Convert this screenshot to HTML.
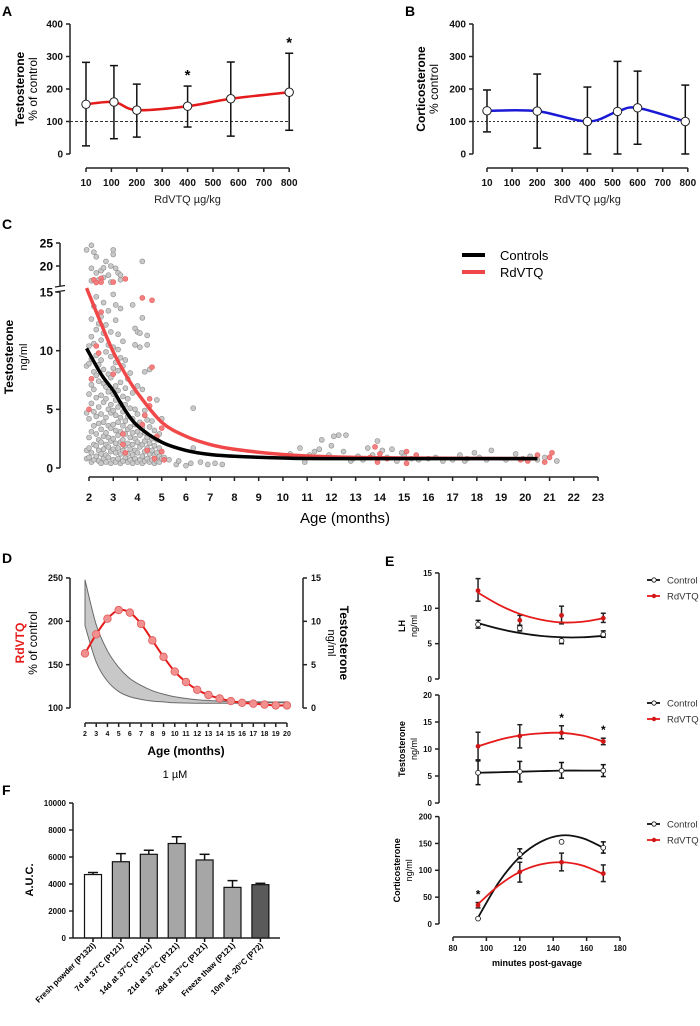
<!DOCTYPE html>
<html><head><meta charset="utf-8"><style>
html,body{margin:0;padding:0;background:#fff;}
svg{display:block;font-family:"Liberation Sans",Arial,sans-serif;}
</style></head><body>
<svg id="fig" width="700" height="1026" viewBox="0 0 700 1026" xmlns="http://www.w3.org/2000/svg">
<text x="2" y="16" font-size="14" font-weight="bold">A</text>
<text x="405" y="16" font-size="14" font-weight="bold">B</text>
<text x="2" y="229" font-size="14" font-weight="bold">C</text>
<text x="2" y="563" font-size="14" font-weight="bold">D</text>
<text x="385" y="566" font-size="14" font-weight="bold">E</text>
<text x="2" y="795" font-size="14" font-weight="bold">F</text>
</svg>
<script>
// ---------- DATA ----------
const aDose=[10,110,200,400,570,800];
const aMean=[153,160,135,147,170,190];
const aLo=[25,47,52,83,55,73];
const aHi=[282,272,215,209,283,310];
const aSig=[0,0,0,1,0,1];
const abXTicks=[10,100,200,300,400,500,600,700,800];
const abYTicks=[0,100,200,300,400];
const bDose=[10,200,400,520,600,790];
const bMean=[133,132,100,131,142,100];
const bLo=[68,18,0,0,30,0];
const bHi=[197,246,206,285,255,212];

const cXTicks=[2,3,4,5,6,7,8,9,10,11,12,13,14,15,16,17,18,19,20,21,22,23];
const cYTicksLow=[0,5,10,15];
const cYTicksHigh=[20,25];
const ctrlT=[1.9,2.5,3,3.5,4,5,6,7,8,10,12,20.5];
const ctrlV=[10.2,8.0,6.6,4.9,3.6,2.2,1.5,1.15,1.0,0.85,0.8,0.8];
const rdT=[1.9,2.5,3,3.5,4,5,6,7,8,10,12,15,20.5];
const rdV=[15.2,12.3,9.9,8.0,6.4,3.9,2.7,2.0,1.6,1.15,0.95,0.85,0.8];
const grayCols=[
[1.9,[0.8,1.5,4.7,8.7]],
[2.0,[0.9,2.6,4.2,6.3,8.9,10.4,1.7]],
[2.1,[0.5,1.3,3.1,5.5,7.1,9.3,11.2,12.7]],
[2.2,[0.7,2.0,3.6,4.8,6.7,8.2,10.6,13.8]],
[2.3,[1.0,1.9,2.9,4.4,6.0,7.9,9.6,11.8,14.6]],
[2.4,[0.6,1.5,2.4,3.8,5.2,7.4,8.8,12.3]],
[2.5,[0.4,1.2,2.2,3.3,4.6,6.2,9.2,10.9,12.9]],
[2.6,[0.8,1.6,2.7,3.9,5.6,7.2,8.4,11.5,14.1]],
[2.7,[0.5,1.1,2.0,3.0,4.3,5.9,6.9,9.9,12.2]],
[2.8,[0.9,1.8,2.6,3.6,5.0,6.5,8.0,10.5,13.4]],
[2.9,[0.4,1.4,2.3,3.4,4.7,5.4,7.7,9.5,11.6]],
[3.0,[0.7,1.6,2.5,3.7,4.9,6.3,8.5,10.3,14.8]],
[3.1,[0.5,1.3,2.1,3.2,4.5,5.8,7.0,9.0,12.6,13.9]],
[3.2,[0.8,1.7,2.8,3.9,5.2,6.6,8.3,10.1,11.4]],
[3.3,[0.4,1.2,2.2,3.1,4.3,5.5,7.3,9.4,13.6]],
[3.4,[0.6,1.5,2.4,3.6,4.8,6.1,8.7,10.8]],
[3.5,[0.9,1.9,2.9,4.0,5.4,6.8,9.2]],
[3.6,[0.5,1.2,2.1,3.3,4.4,5.9,7.6]],
[3.7,[0.7,1.6,2.6,3.5,5.1,8.1]],
[3.8,[0.4,1.1,2.0,3.0,4.2,6.4,13.9]],
[3.9,[0.8,1.5,2.5,3.7,5.0,10.5,11.9]],
[4.0,[0.5,1.3,2.2,3.1,4.6,7.0,11.6]],
[4.1,[0.7,1.8,2.8,3.9,10.3,11.5]],
[4.2,[0.4,1.0,2.0,3.4,6.7,12.8]],
[4.3,[0.6,1.4,2.3,3.0,8.2,4.9]],
[4.4,[0.8,1.7,2.6,4.1,11.3,10.5]],
[4.5,[0.5,1.2,2.1,3.5,8.4]],
[4.6,[0.7,1.5,2.5,4.0]],
[4.7,[0.4,1.1,1.9,3.2]],
[4.8,[0.6,1.3,2.4,5.8]],
[4.9,[0.5,1.0,1.7,2.9]],
[5.0,[0.8,1.4,4.2]],
[1.9,[23.5]],[2.1,[24.5,19.5,16.8]],[2.2,[23]],[2.3,[22,18.5]],[2.4,[17]],[2.5,[19]],[2.6,[17.5,19.6]],[2.7,[21]],[2.8,[18]],[2.9,[16.5,20]],[3.0,[23.5,22.5]],[3.1,[19.5]],[3.2,[18.5]],[3.3,[17,18]],[4.2,[21]]
];
const grayLate=[[5.1,0.9],[5.3,0.7],[5.6,0.3],[5.7,0.6],[6,0.2],[6.2,0.4],[6.3,1.7],[6.3,5.1],[6.6,0.5],[6.9,0.3],[7.2,0.4],[7.5,0.3],
[10.3,1.2],[10.7,1.7],[10.9,0.5],[11,0.9],[11.1,1.1],[11.3,1.4],[11.5,1.6],[11.6,2.4],[11.9,1.1],[12,1.9],[12.1,2.7],[12.3,2.8],[12.5,1.4],[12.6,2.8],[12.8,0.6],[12.9,0.8],[13.1,1],[13.3,0.7],[13.5,1.7],[13.7,1.1],[13.9,2.3],[14.1,1.5],[14.3,0.9],[14.5,1.6],[14.7,0.6],[14.9,1.3],[15,1],[15.3,0.8],[15.6,0.7],[16,0.8],[16.3,0.9],[16.6,0.6],[17,0.7],[17.3,1.1],[17.5,0.6],[17.6,0.8],[17.9,1.3],[18.1,0.9],[18.4,0.7],[18.6,1.5],[19.2,0.7],[19.6,1.2],[19.9,0.8],[20.2,1],[20.5,0.7],[20.8,0.9],[21.3,0.6]];
const redPts=[[2.2,17],[2.5,17.3],[2.5,16.5],[3.0,16.5],[3.5,17.2],[2.3,16.4],
[2.0,5],[2.1,7.6],[2.3,10.4],[2.4,9.8],[2.5,13.3],[3.0,8],[3.4,2.9],[3.4,2],[3.5,1.3],[4.2,14.5],[4.6,14.3],[4.6,8.6],[4.5,5.9],[4.3,4.5],[4.2,3.7],[4.8,2.7],[5.0,3.4],[5,1.4],[5.1,0.7],[4.4,1.5],[4.7,0.8],[4.5,5.3],
[13.6,0.9],[13.8,1.8],[13.9,0.5],[14,1.2],[14.3,0.8],[15.1,1.4],[15.1,0.4],[15.5,1.1],[19.8,0.7],[20.1,0.6],[20.5,1.1],[20.8,0.5],[21,0.9],[21.1,1.3]];

const dAge=[2,3,4,5,6,7,8,9,10,11,12,13,14,15,16,17,18,19,20];
const dPct=[163,185,203,213,210,197,178,159,142,130,121,115,111,108,106,105,104,103,103];
const dBandT=[2,3,4,5,6,7,8,9,10,12,14,16,18,20];
const dBandHi=[14.8,9.6,6.6,4.7,3.4,2.6,2.0,1.6,1.3,0.95,0.8,0.75,0.7,0.7];
const dBandLo=[9.5,5.3,3.1,1.9,1.3,1.0,0.8,0.7,0.6,0.55,0.55,0.55,0.6,0.6];
const dXTicks=[2,3,4,5,6,7,8,9,10,11,12,13,14,15,16,17,18,19,20];
const dYLTicks=[100,150,200,250];
const dYRTicks=[0,5,10,15];

const eMin=[95,120,145,170];
const eCurveMin=[95,107.5,120,132.5,145,157.5,170];
const lhCtrl=[7.7,7.2,5.4,6.3], lhCtrlLo=[7.2,6.8,5.0,5.9], lhCtrlHi=[8.3,7.6,5.9,6.8];
const lhRd=[12.5,8.3,9.0,8.6], lhRdLo=[11,7.5,7.8,8.0], lhRdHi=[14.2,9.0,10.3,9.3];
const lhCtrlFit=[7.9,7.1,6.5,6.1,5.9,5.9,6.1], lhRdFit=[12.2,10.5,9.2,8.4,8.0,8.1,8.6];
const tCtrl=[5.6,5.8,6,6], tCtrlLo=[3.4,3.9,4.6,4.9], tCtrlHi=[7.8,7.7,7.5,7.1];
const tRd=[10.5,12.4,13,11.4], tRdLo=[8,10.2,11.9,10.8], tRdHi=[13.1,14.5,14.3,12];
const tSig=[0,0,1,1];
const tCtrlFit=[5.6,5.7,5.8,5.9,6,6,6], tRdFit=[10.5,11.7,12.5,12.9,13,12.5,11.4];
const cCtrl=[10,130,153,142], cCtrlLo=[10,122,153,132], cCtrlHi=[10,140,153,153];
const cRd=[35,97,115,94], cRdLo=[30,78,99,79], cRdHi=[40,115,132,110];
const cSig=[1,0,0,0];
const cCtrlFit=[12,78,125,153,165,160,142], cRdFit=[37,72,97,111,115,109,93];
const eXTicks=[80,100,120,140,160,180];

const fCats=["Fresh powder (P132I)","7d at 37°C (P121)","14d at 37°C (P121)","21d at 37°C (P121)","28d at 37°C (P121)","Freeze thaw (P121)","10m at -20°C (P72)"];
const fVals=[4700,5650,6200,7000,5780,3750,3950];
const fErr=[150,600,300,500,420,500,100];
const fYTicks=[0,2000,4000,6000,8000,10000];
const fColors=["#ffffff","#a6a6a6","#a6a6a6","#a6a6a6","#a6a6a6","#a6a6a6","#5a5a5a"];

// ---------- HELPERS ----------
const NS="http://www.w3.org/2000/svg";
const svg=document.getElementById('fig');
function E(tag,a,p){const e=document.createElementNS(NS,tag);for(const k in a)e.setAttribute(k,a[k]);(p||svg).appendChild(e);return e;}
function T(x,y,s,a,p){const e=E('text',Object.assign({x:x,y:y},a||{}),p);e.textContent=s;return e;}
function G(name){const g=E('g',{});


return g;}
function smooth(pts){let d='M'+pts[0][0]+','+pts[0][1];
for(let i=0;i<pts.length-1;i++){const p0=pts[Math.max(0,i-1)],p1=pts[i],p2=pts[i+1],p3=pts[Math.min(pts.length-1,i+2)];
const c1x=p1[0]+(p2[0]-p0[0])/6,c1y=p1[1]+(p2[1]-p0[1])/6,c2x=p2[0]-(p3[0]-p1[0])/6,c2y=p2[1]-(p3[1]-p1[1])/6;
d+=' C'+c1x+','+c1y+' '+c2x+','+c2y+' '+p2[0]+','+p2[1];}return d;}
function yAxis(g,x,ys,labels,fs,side){const ymin=Math.min(...ys),ymax=Math.max(...ys);
E('line',{x1:x,y1:ymin,x2:x,y2:ymax,stroke:'#222','stroke-width':1.5},g);
ys.forEach((y,i)=>{const dx=side==='r'?4:-4;E('line',{x1:x,y1:y,x2:x+dx,y2:y,stroke:'#222','stroke-width':1.5},g);
T(side==='r'?x+8:x-7,y+fs*0.36,labels[i],{'font-size':fs,'font-weight':'bold','text-anchor':side==='r'?'start':'end',fill:'#111'},g);});}
function xAxis(g,y,xs,labels,fs,ly){const xmin=Math.min(...xs),xmax=Math.max(...xs);
E('line',{x1:xmin,y1:y,x2:xmax,y2:y,stroke:'#222','stroke-width':1.5},g);
xs.forEach((x,i)=>{E('line',{x1:x,y1:y,x2:x,y2:y+4,stroke:'#222','stroke-width':1.5},g);
T(x,ly,labels[i],{'font-size':fs,'font-weight':'bold','text-anchor':'middle',fill:'#111'},g);});}
function vtitle(g,x,y,s,a){return T(x,y,s,Object.assign({'text-anchor':'middle',transform:'rotate(-90 '+x+' '+y+')'},a),g);}
function errbar(g,x,lo,hi,cw,col){E('line',{x1:x,y1:lo,x2:x,y2:hi,stroke:col,'stroke-width':1.5},g);
E('line',{x1:x-cw,y1:lo,x2:x+cw,y2:lo,stroke:col,'stroke-width':1.5},g);
E('line',{x1:x-cw,y1:hi,x2:x+cw,y2:hi,stroke:col,'stroke-width':1.5},g);}

// ---------- PANEL A / B ----------
function doseX(x0,sp){return d=>d<=100?x0+(d-10)/90*sp:x0+sp+(d-100)/100*sp;}
function drawAB(name,ax,x0,sp,xEnd,dose,mean,lo,hi,sig,col,t1,t2,tx,dash){
const g=G(name);const xs=doseX(x0,sp);const ys=v=>154-v*0.325;
yAxis(g,ax,abYTicks.map(ys),abYTicks.map(String),10,'l');
xAxis(g,168,abXTicks.map(xs),abXTicks.map(String),10,186);
T((x0+xEnd)/2,203,'RdVTQ µg/kg',{'font-size':11,'text-anchor':'middle',fill:'#222'},g);
const ref=E('line',{x1:ax,y1:ys(100),x2:xEnd,y2:ys(100),stroke:'#333','stroke-width':0.9,'stroke-dasharray':dash},g);


vtitle(g,tx,89,t1,{'font-size':12,'font-weight':'bold'});
vtitle(g,tx+13,89,t2,{'font-size':12});
dose.forEach((d,i)=>errbar(g,xs(d),ys(lo[i]),ys(hi[i]),4,'#111'));
const fit=E('path',{d:smooth(dose.map((d,i)=>[xs(d),ys(mean[i])])),fill:'none',stroke:col,'stroke-width':2.5},g);


dose.forEach((d,i)=>{const c=E('circle',{cx:xs(d),cy:ys(mean[i]),r:4.2,fill:'#fff',stroke:'#222','stroke-width':1},g);


if(sig[i])T(xs(d),ys(hi[i])-6,'*',{'font-size':15,'font-weight':'bold','text-anchor':'middle'},g);});}
drawAB('panel-a-chart',70,86,25.4,289,aDose,aMean,aLo,aHi,aSig,'#e51b1b','Testosterone','% of control',24,'3,2');
drawAB('panel-b-chart',473,487,25.1,688,bDose,bMean,bLo,bHi,[0,0,0,0,0,0],'#1a1ad6','Corticosterone','% control',425,'2,2');

// ---------- PANEL C ----------
(function(){const g=G('panel-c-chart');
const xs=t=>89+(t-2)*24.24;const ys=v=>v<=15?468-v*11.73:289-(v-15)*4.6;
yAxis(g,60,cYTicksLow.map(ys),cYTicksLow.map(String),12,'l');
const gu=G('y-axis-upper');g.appendChild(gu);
E('line',{x1:60,y1:243,x2:60,y2:286,stroke:'#222','stroke-width':1.5},gu);
cYTicksHigh.forEach(v=>{E('line',{x1:60,y1:ys(v),x2:56,y2:ys(v),stroke:'#222','stroke-width':1.5},gu);
T(53,ys(v)+4.5,String(v),{'font-size':12,'font-weight':'bold','text-anchor':'end'},gu);});
E('rect',{x:54,y:286,width:12,height:6,fill:'#fff'},g);
E('line',{x1:55,y1:287,x2:65,y2:285.5,stroke:'#222','stroke-width':1.2},g);
E('line',{x1:55,y1:292,x2:65,y2:290.5,stroke:'#222','stroke-width':1.2},g);
xAxis(g,477,cXTicks.map(xs),cXTicks.map(String),11,501);
T(345,523,'Age (months)',{'font-size':15,'text-anchor':'middle'},g);
vtitle(g,13,357,'Testosterone',{'font-size':12,'font-weight':'bold'});
vtitle(g,27,357,'ng/ml',{'font-size':11});
const pts=G('gray-scatter');g.appendChild(pts);
grayCols.forEach(c=>c[1].forEach(v=>{const e=E('circle',{cx:xs(c[0]),cy:ys(v),r:2.5,fill:'#c9c9c9',stroke:'#8d8d8d','stroke-width':0.6},pts);

}));
grayLate.forEach(p=>{const e=E('circle',{cx:xs(p[0]),cy:ys(p[1]),r:2.5,fill:'#c9c9c9',stroke:'#8d8d8d','stroke-width':0.6},pts);

});
redPts.forEach(p=>{const e=E('circle',{cx:xs(p[0]),cy:ys(p[1]),r:2.5,fill:'#f28080',stroke:'#e85a5a','stroke-width':0.6},pts);

});
const rc=E('path',{d:smooth(rdT.map((t,i)=>[xs(t),ys(rdV[i])])),fill:'none',stroke:'#f04848','stroke-width':3.5},g);


const cc=E('path',{d:smooth(ctrlT.map((t,i)=>[xs(t),ys(ctrlV[i])])),fill:'none',stroke:'#000','stroke-width':3.5},g);


const lg=G('legend');g.appendChild(lg);
E('line',{x1:462,y1:255,x2:485,y2:255,stroke:'#000','stroke-width':4},lg);
T(500,260,'Controls',{'font-size':13},lg);
E('line',{x1:462,y1:272,x2:485,y2:272,stroke:'#f04848','stroke-width':4},lg);
T(500,277,'RdVTQ',{'font-size':13},lg);
})();

// ---------- PANEL D ----------
(function(){const g=G('panel-d-chart');
const xs=t=>85+(t-2)*11.22;const yl=v=>708-(v-100)*0.867;const yr=v=>708-v*8.667;
const band=dBandT.map((t,i)=>[xs(t),yr(dBandHi[i])]);const lowb=dBandT.map((t,i)=>[xs(t),yr(dBandLo[i])]);
const bp=E('path',{d:smooth(band)+' L'+smooth(lowb.slice().reverse()).slice(1)+' Z',fill:'#c8c8c8',stroke:'#6a6a6a','stroke-width':1},g);


yAxis(g,70,dYLTicks.map(yl),dYLTicks.map(String),9,'l');
yAxis(g,303,dYRTicks.map(yr),dYRTicks.map(String),9,'r');
xAxis(g,723,dXTicks.map(xs),dXTicks.map(String),7,736);
T(186,755,'Age (months)',{'font-size':12,'font-weight':'bold','text-anchor':'middle'},g);
vtitle(g,24,643,'RdVTQ',{'font-size':12,'font-weight':'bold',fill:'#e51b1b'});
vtitle(g,37,643,'% of control',{'font-size':12});
T(340,643,'Testosterone',{'font-size':12,'font-weight':'bold','text-anchor':'middle',transform:'rotate(90 340 643)'},g);
T(328,643,'ng/ml',{'font-size':11,'text-anchor':'middle',transform:'rotate(90 328 643)'},g);
const rl=E('path',{d:smooth(dAge.map((t,i)=>[xs(t),yl(dPct[i])])),fill:'none',stroke:'#e51b1b','stroke-width':2},g);


dAge.forEach((t,i)=>{const c=E('circle',{cx:xs(t),cy:yl(dPct[i]),r:3.8,fill:'#f29090',stroke:'#e05a5a','stroke-width':0.8},g);

});
T(175,778,'1 µM',{'font-size':11,'text-anchor':'middle'},g);
})();

// ---------- PANEL E ----------
const xE=m=>453+(m-80)*1.67;
function drawE(name,y0,sc,ticks,title,ctrl,cLo,cHi,rd,rLo,rHi,cFit,rFit,sig,legY,titleX){
const g=G(name);const ys=v=>y0-v*sc;
yAxis(g,439,ticks.map(ys),ticks.map(String),8,'l');
vtitle(g,titleX,(ys(ticks[0])+ys(ticks[ticks.length-1]))/2,title,{'font-size':9,'font-weight':'bold'});
vtitle(g,titleX+12,(ys(ticks[0])+ys(ticks[ticks.length-1]))/2,'ng/ml',{'font-size':9});
eMin.forEach((m,i)=>{errbar(g,xE(m),ys(cLo[i]),ys(cHi[i]),2.5,'#111');errbar(g,xE(m),ys(rLo[i]),ys(rHi[i]),2.5,'#222');});
const cf=E('path',{d:smooth(eCurveMin.map((m,i)=>[xE(m),ys(cFit[i])])),fill:'none',stroke:'#111','stroke-width':1.8},g);


const rf=E('path',{d:smooth(eCurveMin.map((m,i)=>[xE(m),ys(rFit[i])])),fill:'none',stroke:'#e51b1b','stroke-width':1.8},g);


eMin.forEach((m,i)=>{const c=E('circle',{cx:xE(m),cy:ys(ctrl[i]),r:2.4,fill:'#fff',stroke:'#111','stroke-width':0.8},g);


const r=E('circle',{cx:xE(m),cy:ys(rd[i]),r:2.4,fill:'#d01818'},g);


if(sig[i])T(xE(m),ys(Math.max(rHi[i],cHi[i]))-4,'*',{'font-size':12,'font-weight':'bold','text-anchor':'middle'},g);});
const lg=G('legend');g.appendChild(lg);
E('line',{x1:647,y1:legY,x2:660,y2:legY,stroke:'#111','stroke-width':1.8},lg);
E('circle',{cx:654,cy:legY,r:2.2,fill:'#fff',stroke:'#111','stroke-width':0.8},lg);
T(667,legY+3.5,'Control',{'font-size':9.5,fill:'#333'},lg);
E('line',{x1:647,y1:legY+16,x2:660,y2:legY+16,stroke:'#e51b1b','stroke-width':1.8},lg);
E('circle',{cx:654,cy:legY+16,r:2.2,fill:'#d01818'},lg);
T(667,legY+19.5,'RdVTQ',{'font-size':9.5,fill:'#333'},lg);}
drawE('panel-e-lh',679,7.07,[0,5,10,15],'LH',lhCtrl,lhCtrlLo,lhCtrlHi,lhRd,lhRdLo,lhRdHi,lhCtrlFit,lhRdFit,[0,0,0,0],580,405);
drawE('panel-e-testosterone',803,5.4,[0,5,10,15,20],'Testosterone',tCtrl,tCtrlLo,tCtrlHi,tRd,tRdLo,tRdHi,tCtrlFit,tRdFit,tSig,703,405);
drawE('panel-e-corticosterone',924,0.537,[0,50,100,150,200],'Corticosterone',cCtrl,cCtrlLo,cCtrlHi,cRd,cRdLo,cRdHi,cCtrlFit,cRdFit,cSig,824,400);
(function(){const g=G('panel-e-x-axis');
xAxis(g,937,eXTicks.map(xE),eXTicks.map(String),8,951);
T(537,966,'minutes post-gavage',{'font-size':9,'font-weight':'bold','text-anchor':'middle'},g);})();

// ---------- PANEL F ----------
(function(){const g=G('panel-f-chart');
const ys=v=>938-v*0.0135;const xs=i=>93+i*27.9;
yAxis(g,73,fYTicks.map(ys),fYTicks.map(String),8,'l');
vtitle(g,33,880,'A.U.C.',{'font-size':11,'font-weight':'bold'});
fVals.forEach((v,i)=>{const x=xs(i);
E('line',{x1:x,y1:ys(v),x2:x,y2:ys(v+fErr[i]),stroke:'#111','stroke-width':1.5},g);
E('line',{x1:x-5,y1:ys(v+fErr[i]),x2:x+5,y2:ys(v+fErr[i]),stroke:'#111','stroke-width':1.5},g);
const b=E('rect',{x:x-8.5,y:ys(v),width:17,height:938-ys(v),fill:fColors[i],stroke:'#111','stroke-width':1.2},g);


E('line',{x1:x,y1:938,x2:x,y2:942,stroke:'#111','stroke-width':1.5},g);
T(x+3,946,fCats[i],{'font-size':8,'font-weight':'bold','text-anchor':'end',transform:'rotate(-45 '+(x+3)+' 946)'},g);});
E('line',{x1:73,y1:938,x2:280,y2:938,stroke:'#222','stroke-width':1.5},g);
})();
</script>
</body></html>
